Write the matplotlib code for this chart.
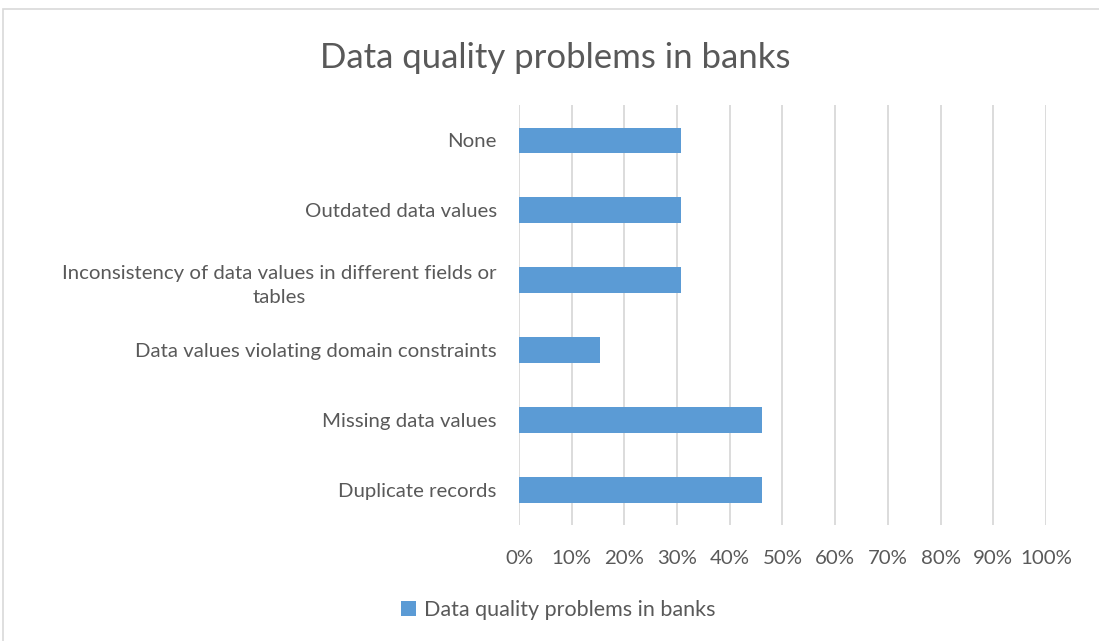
import matplotlib.pyplot as plt
from matplotlib.patches import Rectangle
from matplotlib.ticker import PercentFormatter

# categorias de abajo hacia arriba (orden del eje)
categorias = [
    "Duplicate records",
    "Missing data values",
    "Data values violating domain constraints",
    "Inconsistency of data values in different fields or\ntables",
    "Outdated data values",
    "None",
]
porcentajes = [46.2, 46.2, 15.4, 30.8, 30.8, 30.8]
ticks_x = list(range(0, 101, 10))

azul = "#5b9bd5"
gris_texto = "#595959"

plt.rcParams['font.family'] = ['Lato', 'DejaVu Sans']

fig = plt.figure(figsize=(10.99, 6.41), dpi=100)
ax = fig.add_axes([0.4722, 0.181, 0.4795, 0.655])

ax.barh(range(len(categorias)), porcentajes, height=0.36, color=azul, label="Data quality problems in banks", zorder=3)

ax.set_xlim(0, 100)
ax.set_ylim(-0.5, len(categorias) - 0.5)
ax.set_xticks(ticks_x)
ax.xaxis.set_major_formatter(PercentFormatter(decimals=0))
ax.set_yticks(range(len(categorias)))
ax.set_yticklabels(categorias, multialignment='center', linespacing=1.55)

ax.grid(axis='x', color="#d9d9d9", linewidth=1.3, zorder=0)
for s in ax.spines.values():
    s.set_visible(False)
ax.tick_params(axis='both', length=0, labelsize=14.7, colors=gris_texto)
ax.tick_params(axis='x', pad=18)
ax.tick_params(axis='y', pad=16)

fig.suptitle("Data quality problems in banks", x=0.505, y=0.935, fontsize=25, color=gris_texto)

# leyenda abajo
fig.legend(loc='center', bbox_to_anchor=(0.508, 0.048), frameon=False, fontsize=15.5,
           labelcolor=gris_texto, handlelength=0.7, handleheight=0.7, handletextpad=0.35)

# marco del grafico
fig.patches.append(Rectangle((3 / 1099, -0.1), 1.2, 1.1 - 9 / 641, transform=fig.transFigure,
                             fill=False, edgecolor="#d9d9d9", linewidth=1.2))

fig.savefig("out.png", dpi=100)
